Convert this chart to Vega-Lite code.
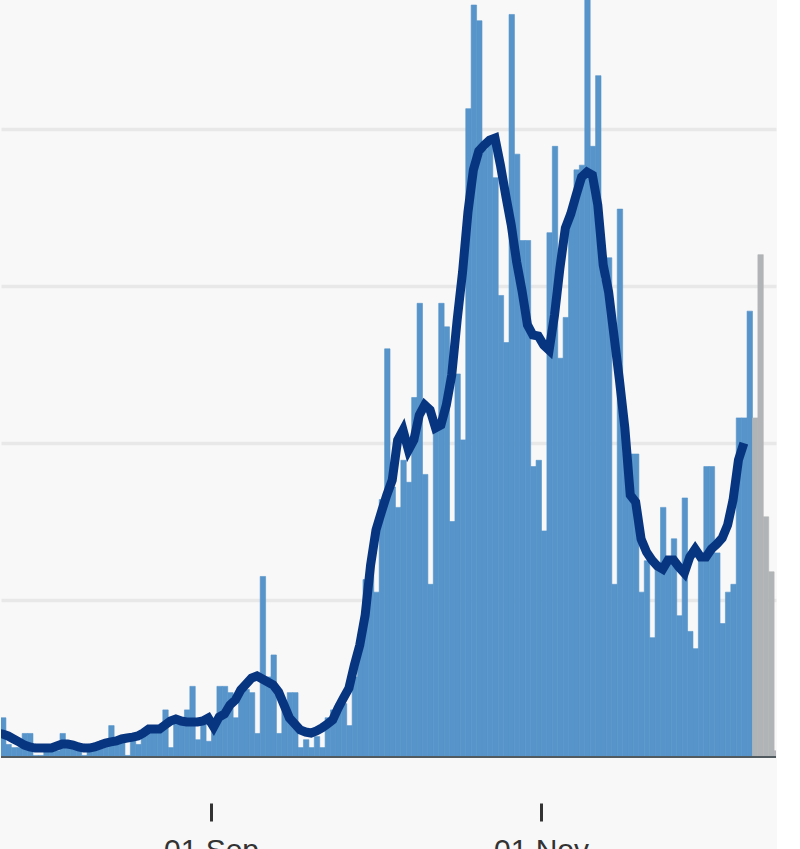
{
  "$schema": "https://vega.github.io/schema/vega-lite/v6.json",
  "width": 775,
  "height": 757,
  "padding": 0,
  "background": "#f8f8f8",
  "config": {"view": {"stroke": null}},
  "datasets": {
    "bars": [
      {"date":"2020-07-24","cases":25,"status":"complete"},
      {"date":"2020-07-25","cases":8,"status":"complete"},
      {"date":"2020-07-26","cases":6,"status":"complete"},
      {"date":"2020-07-27","cases":6,"status":"complete"},
      {"date":"2020-07-28","cases":15,"status":"complete"},
      {"date":"2020-07-29","cases":15,"status":"complete"},
      {"date":"2020-07-30","cases":1,"status":"complete"},
      {"date":"2020-07-31","cases":1,"status":"complete"},
      {"date":"2020-08-01","cases":6,"status":"complete"},
      {"date":"2020-08-02","cases":7,"status":"complete"},
      {"date":"2020-08-03","cases":4,"status":"complete"},
      {"date":"2020-08-04","cases":15,"status":"complete"},
      {"date":"2020-08-05","cases":8,"status":"complete"},
      {"date":"2020-08-06","cases":7,"status":"complete"},
      {"date":"2020-08-07","cases":7,"status":"complete"},
      {"date":"2020-08-08","cases":1,"status":"complete"},
      {"date":"2020-08-09","cases":4,"status":"complete"},
      {"date":"2020-08-10","cases":8,"status":"complete"},
      {"date":"2020-08-11","cases":8,"status":"complete"},
      {"date":"2020-08-12","cases":8,"status":"complete"},
      {"date":"2020-08-13","cases":20,"status":"complete"},
      {"date":"2020-08-14","cases":11,"status":"complete"},
      {"date":"2020-08-15","cases":10,"status":"complete"},
      {"date":"2020-08-16","cases":1,"status":"complete"},
      {"date":"2020-08-17","cases":15,"status":"complete"},
      {"date":"2020-08-18","cases":8,"status":"complete"},
      {"date":"2020-08-19","cases":17,"status":"complete"},
      {"date":"2020-08-20","cases":17,"status":"complete"},
      {"date":"2020-08-21","cases":16,"status":"complete"},
      {"date":"2020-08-22","cases":17,"status":"complete"},
      {"date":"2020-08-23","cases":30,"status":"complete"},
      {"date":"2020-08-24","cases":6,"status":"complete"},
      {"date":"2020-08-25","cases":22,"status":"complete"},
      {"date":"2020-08-26","cases":24,"status":"complete"},
      {"date":"2020-08-27","cases":30,"status":"complete"},
      {"date":"2020-08-28","cases":45,"status":"complete"},
      {"date":"2020-08-29","cases":11,"status":"complete"},
      {"date":"2020-08-30","cases":25,"status":"complete"},
      {"date":"2020-08-31","cases":10,"status":"complete"},
      {"date":"2020-09-01","cases":22,"status":"complete"},
      {"date":"2020-09-02","cases":45,"status":"complete"},
      {"date":"2020-09-03","cases":45,"status":"complete"},
      {"date":"2020-09-04","cases":41,"status":"complete"},
      {"date":"2020-09-05","cases":25,"status":"complete"},
      {"date":"2020-09-06","cases":43,"status":"complete"},
      {"date":"2020-09-07","cases":43,"status":"complete"},
      {"date":"2020-09-08","cases":41,"status":"complete"},
      {"date":"2020-09-09","cases":15,"status":"complete"},
      {"date":"2020-09-10","cases":115,"status":"complete"},
      {"date":"2020-09-11","cases":51,"status":"complete"},
      {"date":"2020-09-12","cases":65,"status":"complete"},
      {"date":"2020-09-13","cases":15,"status":"complete"},
      {"date":"2020-09-14","cases":33,"status":"complete"},
      {"date":"2020-09-15","cases":41,"status":"complete"},
      {"date":"2020-09-16","cases":41,"status":"complete"},
      {"date":"2020-09-17","cases":6,"status":"complete"},
      {"date":"2020-09-18","cases":11,"status":"complete"},
      {"date":"2020-09-19","cases":6,"status":"complete"},
      {"date":"2020-09-20","cases":13,"status":"complete"},
      {"date":"2020-09-21","cases":6,"status":"complete"},
      {"date":"2020-09-22","cases":25,"status":"complete"},
      {"date":"2020-09-23","cases":30,"status":"complete"},
      {"date":"2020-09-24","cases":34,"status":"complete"},
      {"date":"2020-09-25","cases":34,"status":"complete"},
      {"date":"2020-09-26","cases":20,"status":"complete"},
      {"date":"2020-09-27","cases":51,"status":"complete"},
      {"date":"2020-09-28","cases":70,"status":"complete"},
      {"date":"2020-09-29","cases":113,"status":"complete"},
      {"date":"2020-09-30","cases":125,"status":"complete"},
      {"date":"2020-10-01","cases":105,"status":"complete"},
      {"date":"2020-10-02","cases":164,"status":"complete"},
      {"date":"2020-10-03","cases":260,"status":"complete"},
      {"date":"2020-10-04","cases":172,"status":"complete"},
      {"date":"2020-10-05","cases":159,"status":"complete"},
      {"date":"2020-10-06","cases":189,"status":"complete"},
      {"date":"2020-10-07","cases":175,"status":"complete"},
      {"date":"2020-10-08","cases":229,"status":"complete"},
      {"date":"2020-10-09","cases":289,"status":"complete"},
      {"date":"2020-10-10","cases":180,"status":"complete"},
      {"date":"2020-10-11","cases":110,"status":"complete"},
      {"date":"2020-10-12","cases":211,"status":"complete"},
      {"date":"2020-10-13","cases":289,"status":"complete"},
      {"date":"2020-10-14","cases":274,"status":"complete"},
      {"date":"2020-10-15","cases":150,"status":"complete"},
      {"date":"2020-10-16","cases":244,"status":"complete"},
      {"date":"2020-10-17","cases":202,"status":"complete"},
      {"date":"2020-10-18","cases":413,"status":"complete"},
      {"date":"2020-10-19","cases":479,"status":"complete"},
      {"date":"2020-10-20","cases":469,"status":"complete"},
      {"date":"2020-10-21","cases":387,"status":"complete"},
      {"date":"2020-10-22","cases":393,"status":"complete"},
      {"date":"2020-10-23","cases":369,"status":"complete"},
      {"date":"2020-10-24","cases":294,"status":"complete"},
      {"date":"2020-10-25","cases":264,"status":"complete"},
      {"date":"2020-10-26","cases":473,"status":"complete"},
      {"date":"2020-10-27","cases":384,"status":"complete"},
      {"date":"2020-10-28","cases":329,"status":"complete"},
      {"date":"2020-10-29","cases":329,"status":"complete"},
      {"date":"2020-10-30","cases":185,"status":"complete"},
      {"date":"2020-10-31","cases":189,"status":"complete"},
      {"date":"2020-11-01","cases":144,"status":"complete"},
      {"date":"2020-11-02","cases":334,"status":"complete"},
      {"date":"2020-11-03","cases":389,"status":"complete"},
      {"date":"2020-11-04","cases":254,"status":"complete"},
      {"date":"2020-11-05","cases":280,"status":"complete"},
      {"date":"2020-11-06","cases":349,"status":"complete"},
      {"date":"2020-11-07","cases":374,"status":"complete"},
      {"date":"2020-11-08","cases":377,"status":"complete"},
      {"date":"2020-11-09","cases":500,"status":"complete"},
      {"date":"2020-11-10","cases":389,"status":"complete"},
      {"date":"2020-11-11","cases":434,"status":"complete"},
      {"date":"2020-11-12","cases":304,"status":"complete"},
      {"date":"2020-11-13","cases":318,"status":"complete"},
      {"date":"2020-11-14","cases":110,"status":"complete"},
      {"date":"2020-11-15","cases":349,"status":"complete"},
      {"date":"2020-11-16","cases":193,"status":"complete"},
      {"date":"2020-11-17","cases":193,"status":"complete"},
      {"date":"2020-11-18","cases":193,"status":"complete"},
      {"date":"2020-11-19","cases":105,"status":"complete"},
      {"date":"2020-11-20","cases":125,"status":"complete"},
      {"date":"2020-11-21","cases":76,"status":"complete"},
      {"date":"2020-11-22","cases":124,"status":"complete"},
      {"date":"2020-11-23","cases":159,"status":"complete"},
      {"date":"2020-11-24","cases":127,"status":"complete"},
      {"date":"2020-11-25","cases":139,"status":"complete"},
      {"date":"2020-11-26","cases":90,"status":"complete"},
      {"date":"2020-11-27","cases":165,"status":"complete"},
      {"date":"2020-11-28","cases":80,"status":"complete"},
      {"date":"2020-11-29","cases":69,"status":"complete"},
      {"date":"2020-11-30","cases":127,"status":"complete"},
      {"date":"2020-12-01","cases":185,"status":"complete"},
      {"date":"2020-12-02","cases":185,"status":"complete"},
      {"date":"2020-12-03","cases":130,"status":"complete"},
      {"date":"2020-12-04","cases":85,"status":"complete"},
      {"date":"2020-12-05","cases":105,"status":"complete"},
      {"date":"2020-12-06","cases":110,"status":"complete"},
      {"date":"2020-12-07","cases":216,"status":"complete"},
      {"date":"2020-12-08","cases":216,"status":"complete"},
      {"date":"2020-12-09","cases":284,"status":"complete"},
      {"date":"2020-12-10","cases":216,"status":"incomplete"},
      {"date":"2020-12-11","cases":320,"status":"incomplete"},
      {"date":"2020-12-12","cases":153,"status":"incomplete"},
      {"date":"2020-12-13","cases":118,"status":"incomplete"},
      {"date":"2020-12-14","cases":4,"status":"incomplete"}
    ],
    "avg": [
      {"date":"2020-07-23","avg":15.3},
      {"date":"2020-07-24","avg":14.6},
      {"date":"2020-07-25","avg":13.4},
      {"date":"2020-07-26","avg":11.5},
      {"date":"2020-07-27","avg":9.6},
      {"date":"2020-07-28","avg":7.6},
      {"date":"2020-07-29","avg":6.4},
      {"date":"2020-07-30","avg":5.7},
      {"date":"2020-07-31","avg":5.7},
      {"date":"2020-08-01","avg":5.7},
      {"date":"2020-08-02","avg":5.7},
      {"date":"2020-08-03","avg":7.0},
      {"date":"2020-08-04","avg":8.3},
      {"date":"2020-08-05","avg":8.3},
      {"date":"2020-08-06","avg":7.6},
      {"date":"2020-08-07","avg":6.4},
      {"date":"2020-08-08","avg":5.7},
      {"date":"2020-08-09","avg":5.7},
      {"date":"2020-08-10","avg":6.4},
      {"date":"2020-08-11","avg":7.6},
      {"date":"2020-08-12","avg":8.9},
      {"date":"2020-08-13","avg":9.6},
      {"date":"2020-08-14","avg":10.2},
      {"date":"2020-08-15","avg":11.5},
      {"date":"2020-08-16","avg":12.1},
      {"date":"2020-08-17","avg":12.7},
      {"date":"2020-08-18","avg":13.4},
      {"date":"2020-08-19","avg":15.3},
      {"date":"2020-08-20","avg":17.8},
      {"date":"2020-08-21","avg":17.8},
      {"date":"2020-08-22","avg":17.8},
      {"date":"2020-08-23","avg":20.4},
      {"date":"2020-08-24","avg":22.9},
      {"date":"2020-08-25","avg":24.2},
      {"date":"2020-08-26","avg":22.9},
      {"date":"2020-08-27","avg":22.3},
      {"date":"2020-08-28","avg":22.3},
      {"date":"2020-08-29","avg":22.3},
      {"date":"2020-08-30","avg":22.9},
      {"date":"2020-08-31","avg":24.8},
      {"date":"2020-09-01","avg":19.1},
      {"date":"2020-09-02","avg":25.5},
      {"date":"2020-09-03","avg":27.4},
      {"date":"2020-09-04","avg":33.1},
      {"date":"2020-09-05","avg":36.3},
      {"date":"2020-09-06","avg":42.7},
      {"date":"2020-09-07","avg":46.5},
      {"date":"2020-09-08","avg":50.3},
      {"date":"2020-09-09","avg":51.6},
      {"date":"2020-09-10","avg":49.7},
      {"date":"2020-09-11","avg":47.8},
      {"date":"2020-09-12","avg":45.9},
      {"date":"2020-09-13","avg":41.4},
      {"date":"2020-09-14","avg":33.1},
      {"date":"2020-09-15","avg":24.8},
      {"date":"2020-09-16","avg":21.0},
      {"date":"2020-09-17","avg":17.2},
      {"date":"2020-09-18","avg":15.9},
      {"date":"2020-09-19","avg":15.3},
      {"date":"2020-09-20","avg":16.6},
      {"date":"2020-09-21","avg":18.5},
      {"date":"2020-09-22","avg":21.0},
      {"date":"2020-09-23","avg":23.6},
      {"date":"2020-09-24","avg":31.2},
      {"date":"2020-09-25","avg":37.6},
      {"date":"2020-09-26","avg":43.9},
      {"date":"2020-09-27","avg":58.6},
      {"date":"2020-09-28","avg":71.3},
      {"date":"2020-09-29","avg":90.4},
      {"date":"2020-09-30","avg":122.3},
      {"date":"2020-10-01","avg":144.6},
      {"date":"2020-10-02","avg":156.1},
      {"date":"2020-10-03","avg":166.9},
      {"date":"2020-10-04","avg":176.4},
      {"date":"2020-10-05","avg":201.9},
      {"date":"2020-10-06","avg":208.3},
      {"date":"2020-10-07","avg":195.5},
      {"date":"2020-10-08","avg":201.9},
      {"date":"2020-10-09","avg":217.8},
      {"date":"2020-10-10","avg":224.2},
      {"date":"2020-10-11","avg":221.0},
      {"date":"2020-10-12","avg":209.6},
      {"date":"2020-10-13","avg":211.5},
      {"date":"2020-10-14","avg":224.2},
      {"date":"2020-10-15","avg":243.3},
      {"date":"2020-10-16","avg":278.3},
      {"date":"2020-10-17","avg":308.9},
      {"date":"2020-10-18","avg":347.1},
      {"date":"2020-10-19","avg":373.9},
      {"date":"2020-10-20","avg":386.0},
      {"date":"2020-10-21","avg":389.8},
      {"date":"2020-10-22","avg":393.0},
      {"date":"2020-10-23","avg":394.3},
      {"date":"2020-10-24","avg":377.1},
      {"date":"2020-10-25","avg":357.3},
      {"date":"2020-10-26","avg":338.9},
      {"date":"2020-10-27","avg":315.3},
      {"date":"2020-10-28","avg":296.8},
      {"date":"2020-10-29","avg":275.2},
      {"date":"2020-10-30","avg":268.8},
      {"date":"2020-10-31","avg":268.2},
      {"date":"2020-11-01","avg":262.4},
      {"date":"2020-11-02","avg":259.2},
      {"date":"2020-11-03","avg":281.5},
      {"date":"2020-11-04","avg":311.5},
      {"date":"2020-11-05","avg":336.9},
      {"date":"2020-11-06","avg":345.9},
      {"date":"2020-11-07","avg":358.0},
      {"date":"2020-11-08","avg":369.4},
      {"date":"2020-11-09","avg":372.6},
      {"date":"2020-11-10","avg":370.7},
      {"date":"2020-11-11","avg":351.6},
      {"date":"2020-11-12","avg":313.4},
      {"date":"2020-11-13","avg":296.2},
      {"date":"2020-11-14","avg":268.2},
      {"date":"2020-11-15","avg":240.1},
      {"date":"2020-11-16","avg":209.6},
      {"date":"2020-11-17","avg":166.9},
      {"date":"2020-11-18","avg":162.4},
      {"date":"2020-11-19","avg":138.9},
      {"date":"2020-11-20","avg":130.6},
      {"date":"2020-11-21","avg":125.5},
      {"date":"2020-11-22","avg":121.7},
      {"date":"2020-11-23","avg":119.7},
      {"date":"2020-11-24","avg":125.5},
      {"date":"2020-11-25","avg":125.5},
      {"date":"2020-11-26","avg":121.0},
      {"date":"2020-11-27","avg":117.2},
      {"date":"2020-11-28","avg":127.4},
      {"date":"2020-11-29","avg":132.5},
      {"date":"2020-11-30","avg":127.4},
      {"date":"2020-12-01","avg":127.4},
      {"date":"2020-12-02","avg":132.5},
      {"date":"2020-12-03","avg":135.7},
      {"date":"2020-12-04","avg":139.5},
      {"date":"2020-12-05","avg":147.8},
      {"date":"2020-12-06","avg":163.7},
      {"date":"2020-12-07","avg":189.2},
      {"date":"2020-12-08","avg":200.0}
    ]
  },
  "layer": [
    {
      "data": {"name": "bars"},
      "mark": {"type": "bar", "clip": true, "binSpacing": 0, "strokeWidth": 0.6},
      "encoding": {
        "x": {
          "field": "date",
          "type": "temporal",
          "timeUnit": "utcyearmonthdate",
          "scale": {
            "domain": [
              {"year": 2020, "month": 7, "date": 24, "hours": 4, "minutes": 22, "utc": true},
              {"year": 2020, "month": 12, "date": 14, "hours": 10, "minutes": 34, "utc": true}
            ]
          },
          "axis": {
            "title": null,
            "values": [
              {"year": 2020, "month": 9, "date": 1, "utc": true},
              {"year": 2020, "month": 11, "date": 1, "utc": true}
            ],
            "format": "%d %b",
            "offset": 46,
            "domain": false,
            "grid": false,
            "tickSize": 18,
            "tickWidth": 3,
            "tickColor": "#333333",
            "labelFont": "Liberation Sans",
            "labelFontSize": 30,
            "labelColor": "#333333",
            "labelPadding": 14,
            "labelFlush": false,
            "labelOverlap": false
          }
        },
        "y": {
          "field": "cases",
          "type": "quantitative",
          "scale": {"domain": [0, 482.2], "nice": false, "zero": true},
          "axis": {
            "title": null,
            "values": [100, 200, 300, 400],
            "labels": false,
            "ticks": false,
            "domain": false,
            "grid": true,
            "gridColor": "#e8e8e8",
            "gridWidth": 3.5
          }
        },
        "color": {
          "field": "status",
          "type": "nominal",
          "scale": {"domain": ["complete", "incomplete"], "range": ["#5694ca", "#b1b4b6"]},
          "legend": null
        },
        "stroke": {
          "field": "status",
          "type": "nominal",
          "scale": {"domain": ["complete", "incomplete"], "range": ["#5694ca", "#b1b4b6"]},
          "legend": null
        }
      }
    },
    {
      "data": {"name": "avg"},
      "mark": {"type": "line", "clip": true, "strokeWidth": 9, "color": "#083580"},
      "encoding": {
        "x": {"field": "date", "type": "temporal", "timeUnit": "utcyearmonthdate", "bandPosition": 0.5},
        "y": {"field": "avg", "type": "quantitative"}
      }
    },
    {
      "data": {"values": [{}]},
      "mark": {"type": "rule", "color": "#505a5f", "strokeWidth": 2},
      "encoding": {"y": {"datum": 0}}
    }
  ]
}
